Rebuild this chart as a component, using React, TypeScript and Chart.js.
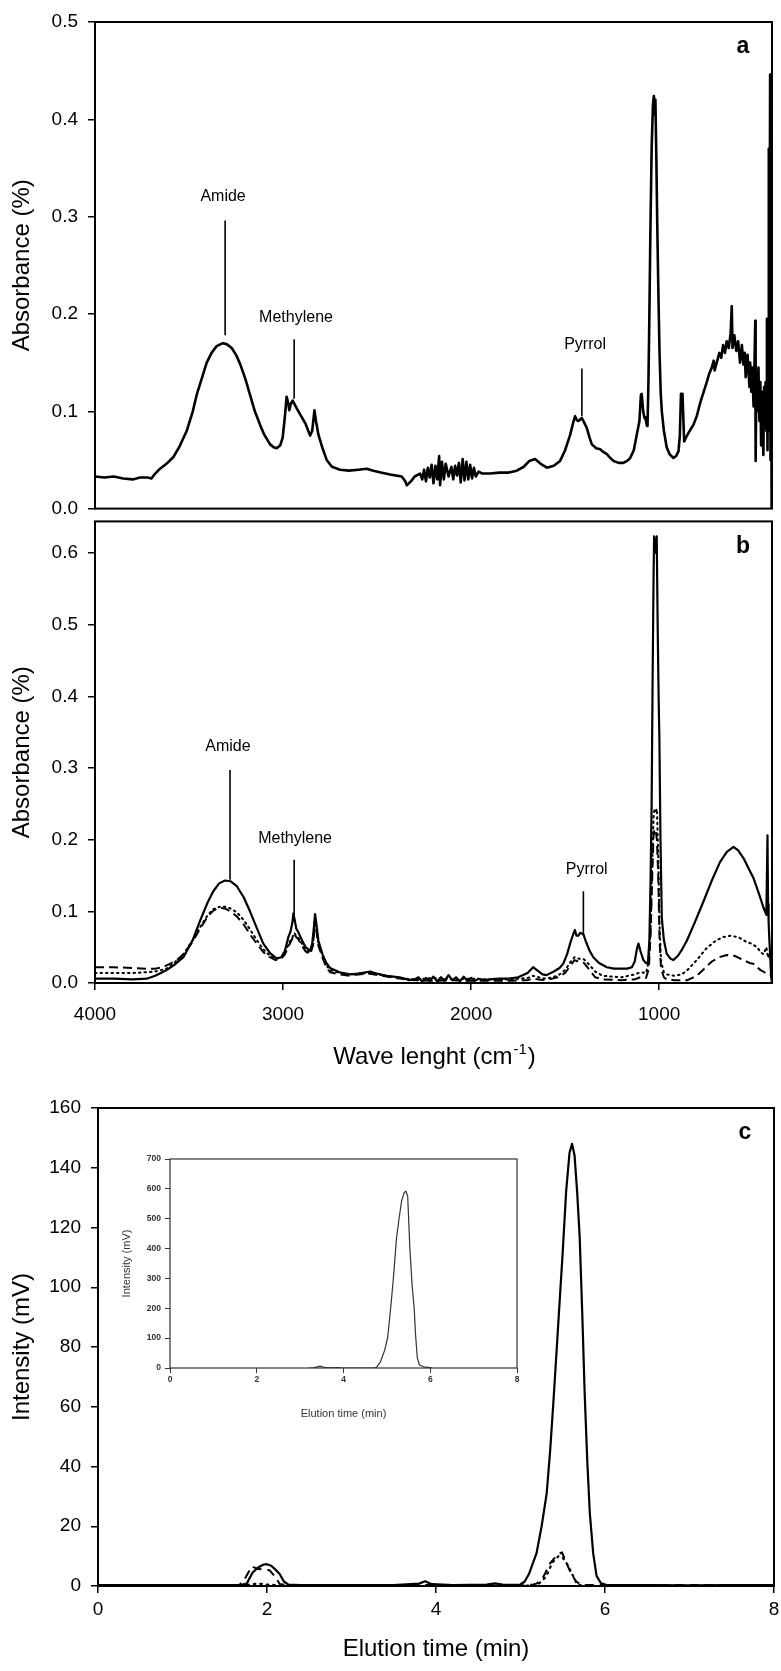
import React, { useEffect, useRef } from 'react';
import { Chart, registerables } from 'chart.js';
Chart.register(...registerables);

const FONT = '"Liberation Sans", Arial, Helvetica, sans-serif';

// ---------------- Panel a : FTIR spectrum ----------------
const waveA = [
  4000, 3950, 3900, 3850, 3800, 3760, 3720, 3700, 3680, 3654,
  3620, 3583, 3550, 3512, 3480, 3459, 3430, 3406, 3380, 3353,
  3320, 3300, 3273, 3250, 3229, 3200, 3176, 3150, 3122, 3100,
  3069, 3050, 3034, 3015, 3002, 2990, 2981, 2972, 2967, 2958,
  2949, 2930, 2910, 2880, 2856, 2845, 2833, 2825, 2812, 2790,
  2768, 2740, 2697, 2650, 2600, 2555, 2520, 2480, 2431, 2400,
  2369, 2350, 2342, 2320, 2300, 2271, 2260, 2250, 2240, 2230,
  2220, 2210, 2200, 2190, 2180, 2170, 2165, 2155, 2145, 2135,
  2120, 2105, 2095, 2085, 2075, 2065, 2055, 2045, 2035, 2025,
  2015, 2005, 1995, 1985, 1975, 1960, 1940, 1900, 1850, 1800,
  1757, 1720, 1690, 1660, 1630, 1597, 1560, 1527, 1500, 1473,
  1455, 1447, 1438, 1429, 1411, 1398, 1385, 1370, 1358, 1335,
  1314, 1295, 1278, 1260, 1243, 1215, 1190, 1170, 1154, 1135,
  1119, 1105, 1097, 1093, 1085, 1078, 1074, 1065, 1062, 1057,
  1052, 1047, 1040, 1033, 1028, 1024, 1020, 1015, 1010, 1004,
  998, 992, 986, 975, 960, 945, 924, 910, 897, 890,
  884, 880, 876, 870, 867, 855, 840, 818, 800, 780,
  760, 747, 735, 720, 710, 705, 694, 680, 670, 660,
  650, 641, 630, 620, 614, 610, 600, 590, 580, 570,
  560, 552, 545, 540, 530, 520, 516, 510, 505, 498,
  493, 489, 487, 483, 478, 472, 467, 462, 458, 454,
  450, 446, 442, 438, 434, 430, 427, 424, 421, 418,
  416, 413, 410, 408, 405, 403, 401, 400,
];
const absA = [
  0.033, 0.032, 0.033, 0.031, 0.030, 0.032, 0.032, 0.031, 0.036, 0.041,
  0.046, 0.053, 0.064, 0.080, 0.100, 0.117, 0.135, 0.150, 0.160, 0.167,
  0.170, 0.169, 0.165, 0.158, 0.149, 0.133, 0.117, 0.100, 0.086, 0.076,
  0.066, 0.063, 0.062, 0.065, 0.073, 0.095, 0.115, 0.108, 0.101, 0.108,
  0.111, 0.104, 0.097, 0.087, 0.075, 0.080, 0.101, 0.090, 0.076, 0.062,
  0.050, 0.043, 0.040, 0.039, 0.040, 0.041, 0.039, 0.037, 0.035, 0.034,
  0.033, 0.028, 0.024, 0.028, 0.033, 0.036, 0.030, 0.040, 0.028, 0.042,
  0.032, 0.045, 0.026, 0.044, 0.030, 0.054, 0.024, 0.048, 0.030, 0.046,
  0.033, 0.043, 0.030, 0.044, 0.034, 0.047, 0.027, 0.051, 0.029, 0.048,
  0.030, 0.045, 0.031, 0.042, 0.033, 0.038, 0.036, 0.036, 0.037, 0.037,
  0.039, 0.043, 0.049, 0.051, 0.046, 0.042, 0.044, 0.049, 0.060, 0.076,
  0.090, 0.095, 0.091, 0.090, 0.093, 0.088, 0.083, 0.073, 0.066, 0.062,
  0.061, 0.058, 0.056, 0.052, 0.049, 0.047, 0.047, 0.049, 0.052, 0.060,
  0.076, 0.090, 0.117, 0.118, 0.100, 0.093, 0.094, 0.085, 0.085, 0.130,
  0.200, 0.280, 0.370, 0.415, 0.424, 0.405, 0.420, 0.360, 0.290, 0.220,
  0.160, 0.120, 0.100, 0.080, 0.063, 0.056, 0.052, 0.054, 0.059, 0.075,
  0.118, 0.100, 0.118, 0.085, 0.069, 0.074, 0.079, 0.086, 0.095, 0.110,
  0.122, 0.130, 0.138, 0.145, 0.152, 0.142, 0.150, 0.160, 0.155, 0.168,
  0.160, 0.172, 0.165, 0.180, 0.208, 0.165, 0.178, 0.162, 0.172, 0.150,
  0.168, 0.148, 0.160, 0.135, 0.158, 0.125, 0.150, 0.120, 0.145, 0.105,
  0.150, 0.193, 0.049, 0.140, 0.100, 0.145, 0.090, 0.130, 0.065, 0.120,
  0.100, 0.055, 0.125, 0.090, 0.130, 0.080, 0.195, 0.060, 0.150, 0.370,
  0.080, 0.200, 0.446, 0.050, 0.250, 0.000, 0.000, 0.000,
];
const ticksA = [0, 0.1, 0.2, 0.3, 0.4, 0.5];

// ---------------- Panel b : three FTIR spectra ----------------
const waveB1 = [
  4000, 3900, 3800, 3725, 3680, 3650, 3619, 3580, 3530, 3480,
  3441, 3400, 3371, 3340, 3309, 3280, 3246, 3210, 3176, 3140,
  3105, 3070, 3034, 3010, 2990, 2972, 2960, 2950, 2945, 2938,
  2930, 2919, 2900, 2880, 2856, 2845, 2835, 2830, 2824, 2812,
  2790, 2770, 2750, 2700, 2644, 2600, 2560, 2537, 2500, 2450,
  2415, 2380, 2350, 2330, 2300, 2280, 2260, 2240, 2220, 2200,
  2180, 2160, 2140, 2120, 2100, 2080, 2060, 2040, 2020, 2000,
  1980, 1960, 1930, 1900, 1850, 1800, 1750, 1700, 1670, 1650,
  1620, 1599, 1560, 1530, 1510, 1490, 1470, 1457, 1448, 1440,
  1430, 1420, 1403, 1390, 1370, 1350, 1320, 1278, 1240, 1207,
  1170, 1145, 1130, 1118, 1110, 1100, 1084, 1070, 1060, 1052,
  1046, 1040, 1035, 1030, 1027, 1020, 1013, 1008, 1003, 999,
  993, 986, 975, 960, 940, 924, 900, 878, 853, 810,
  764, 720, 676, 640, 605, 580, 551, 525, 498, 470,
  445, 430, 424, 421, 418, 414, 410, 405, 400,
];
const absB1 = [
  0.006, 0.006, 0.005, 0.006, 0.010, 0.014, 0.018, 0.025, 0.036, 0.060,
  0.087, 0.113, 0.128, 0.139, 0.143, 0.142, 0.135, 0.120, 0.100, 0.077,
  0.055, 0.042, 0.034, 0.036, 0.045, 0.064, 0.072, 0.085, 0.097, 0.088,
  0.076, 0.071, 0.060, 0.050, 0.045, 0.055, 0.080, 0.096, 0.085, 0.059,
  0.040, 0.028, 0.021, 0.015, 0.012, 0.013, 0.015, 0.016, 0.013, 0.010,
  0.009, 0.008, 0.006, 0.004, 0.005, 0.008, 0.002, 0.007, 0.003, 0.009,
  0.002, 0.008, 0.003, 0.011, 0.004, 0.008, 0.002, 0.009, 0.003, 0.007,
  0.003, 0.006, 0.004, 0.005, 0.006, 0.006, 0.008, 0.014, 0.022, 0.018,
  0.012, 0.011, 0.016, 0.021, 0.027, 0.040, 0.058, 0.068, 0.074, 0.066,
  0.066, 0.070, 0.068, 0.058, 0.045, 0.036, 0.028, 0.022, 0.020, 0.020,
  0.020, 0.022, 0.030, 0.048, 0.055, 0.045, 0.032, 0.028, 0.027, 0.060,
  0.140, 0.250, 0.420, 0.560, 0.623, 0.600, 0.623, 0.500, 0.400, 0.344,
  0.200, 0.091, 0.060, 0.041, 0.034, 0.032, 0.038, 0.047, 0.059, 0.085,
  0.114, 0.143, 0.169, 0.183, 0.190, 0.185, 0.174, 0.160, 0.146, 0.125,
  0.105, 0.095, 0.206, 0.110, 0.085, 0.060, 0.040, 0.010, 0.000,
];
const waveB2 = [
  4000, 3900, 3800, 3725, 3680, 3619, 3580, 3530, 3480, 3441,
  3400, 3371, 3330, 3300, 3270, 3240, 3210, 3176, 3140, 3105,
  3070, 3040, 3010, 2990, 2970, 2950, 2940, 2930, 2919, 2900,
  2880, 2856, 2840, 2830, 2822, 2812, 2790, 2770, 2750, 2700,
  2644, 2600, 2537, 2450, 2400, 2350, 2300, 2200, 2100, 2000,
  1900, 1800, 1700, 1670, 1640, 1600, 1540, 1500, 1470, 1450,
  1430, 1400, 1370, 1340, 1300, 1200, 1130, 1100, 1070, 1055,
  1045, 1038, 1030, 1025, 1018, 1012, 1005, 998, 990, 975,
  960, 920, 880, 850, 800, 750, 700, 660, 620, 580,
  540, 510, 480, 460, 445, 430, 420, 410, 400,
];
const absB2 = [
  0.014, 0.014, 0.014, 0.015, 0.016, 0.020, 0.028, 0.040, 0.060, 0.078,
  0.095, 0.103, 0.107, 0.106, 0.103, 0.097, 0.088, 0.075, 0.060, 0.047,
  0.038, 0.034, 0.036, 0.042, 0.055, 0.064, 0.070, 0.066, 0.063, 0.055,
  0.046, 0.042, 0.055, 0.090, 0.075, 0.055, 0.038, 0.025, 0.018, 0.014,
  0.012, 0.013, 0.014, 0.010, 0.008, 0.006, 0.005, 0.007, 0.005, 0.006,
  0.005, 0.005, 0.007, 0.010, 0.008, 0.006, 0.010, 0.018, 0.030, 0.036,
  0.034, 0.033, 0.025, 0.016, 0.010, 0.008, 0.012, 0.015, 0.014, 0.030,
  0.080, 0.160, 0.230, 0.243, 0.240, 0.243, 0.180, 0.080, 0.030, 0.015,
  0.012, 0.010, 0.012, 0.018, 0.032, 0.048, 0.059, 0.064, 0.066, 0.064,
  0.058, 0.055, 0.050, 0.043, 0.040, 0.050, 0.035, 0.045, 0.030,
];
const waveB3 = [
  4000, 3900, 3800, 3725, 3680, 3640, 3600, 3560, 3530, 3480,
  3441, 3400, 3371, 3340, 3310, 3280, 3246, 3210, 3176, 3140,
  3105, 3070, 3040, 3010, 2990, 2970, 2950, 2940, 2930, 2919,
  2900, 2880, 2856, 2840, 2830, 2822, 2812, 2790, 2770, 2750,
  2700, 2644, 2600, 2537, 2450, 2400, 2350, 2300, 2200, 2100,
  2000, 1900, 1800, 1700, 1670, 1640, 1600, 1540, 1500, 1470,
  1450, 1430, 1400, 1370, 1340, 1300, 1200, 1130, 1100, 1070,
  1055, 1045, 1038, 1030, 1025, 1018, 1012, 1005, 998, 990,
  975, 960, 920, 880, 850, 800, 760, 720, 680, 640,
  600, 560, 520, 500, 480, 460, 440, 420, 400,
];
const absB3 = [
  0.022, 0.022, 0.021, 0.020, 0.020, 0.022, 0.027, 0.033, 0.040, 0.058,
  0.076, 0.093, 0.101, 0.105, 0.104, 0.100, 0.093, 0.082, 0.068, 0.055,
  0.043, 0.036, 0.032, 0.034, 0.040, 0.052, 0.062, 0.068, 0.064, 0.061,
  0.052, 0.044, 0.040, 0.053, 0.088, 0.072, 0.052, 0.035, 0.022, 0.015,
  0.012, 0.010, 0.012, 0.013, 0.009, 0.007, 0.005, 0.004, 0.003, 0.004,
  0.003, 0.003, 0.003, 0.004, 0.006, 0.005, 0.004, 0.008, 0.014, 0.025,
  0.032, 0.030, 0.028, 0.018, 0.008, 0.005, 0.004, 0.005, 0.008, 0.007,
  0.020, 0.070, 0.140, 0.205, 0.215, 0.212, 0.200, 0.150, 0.060, 0.020,
  0.008, 0.005, 0.004, 0.004, 0.004, 0.010, 0.020, 0.030, 0.036, 0.039,
  0.038, 0.033, 0.028, 0.027, 0.022, 0.018, 0.015, 0.012, 0.010,
];
const ticksBy = [0, 0.1, 0.2, 0.3, 0.4, 0.5, 0.6];
const ticksBx = [1000, 2000, 3000, 4000];

// ---------------- Panel c : chromatograms ----------------
const timeC1 = [
  0, 0.5, 1.0, 1.5, 1.7, 1.76, 1.83, 1.9, 1.96, 2.0,
  2.05, 2.1, 2.15, 2.2, 2.25, 2.4, 3.0, 3.5, 3.8, 3.87,
  3.95, 4.2, 4.6, 4.7, 4.8, 5.0, 5.05, 5.1, 5.19, 5.25,
  5.31, 5.35, 5.388, 5.43, 5.467, 5.5, 5.54, 5.58, 5.61, 5.64,
  5.67, 5.70, 5.73, 5.76, 5.79, 5.82, 5.86, 5.90, 5.95, 6.02,
  6.5, 7.0, 7.5, 8.0,
];
const intC1 = [
  0.3, 0.3, 0.3, 0.3, 0.4, 0.8, 4.5, 6.3, 7.2, 7.3,
  6.8, 5.5, 4.0, 1.5, 0.5, 0.3, 0.3, 0.3, 0.8, 1.6,
  0.6, 0.3, 0.5, 0.9, 0.4, 0.5, 1.5, 4, 11, 20,
  31, 45, 61, 80, 97, 112, 132, 145, 148, 144,
  132, 117, 92, 64, 42, 24.5, 11, 3.4, 1, 0.3,
  0.3, 0.2, 0.3, 0.3,
];
const timeC2 = [
  0, 0.5, 1.0, 1.5, 1.65, 1.68, 1.75, 1.82, 1.88, 1.95,
  2.03, 2.1, 2.15, 2.25, 3.0, 4.0, 5.0, 5.15, 5.19, 5.27,
  5.35, 5.42, 5.49, 5.54, 5.6, 5.66, 5.72, 6.5, 7.0, 8.0,
];
const intC2 = [
  0.3, 0.3, 0.3, 0.3, 0.3, 0.5, 3, 6.6, 5.8, 5.5,
  5.3, 3, 0.7, 0.2, 0.3, 0.3, 0.2, 0.5, 0.8, 3,
  7.6, 10, 11.3, 8, 4, 1.5, 0.3, 0.3, 0.3, 0.3,
];
const timeC3 = [
  0, 1, 1.7, 1.8, 1.9, 2.0, 2.1, 2.2, 3, 4,
  5.0, 5.2, 5.3, 5.38, 5.45, 5.5, 5.56, 5.62, 5.67, 5.75,
  6.5, 8,
];
const intC3 = [
  0, 0, 0, 0.5, 0.8, 0.5, 0.3, 0, 0, 0,
  0, 0.3, 3, 8, 10, 9.5, 7, 3.5, 0.5, 0,
  0, 0,
];
const ticksCy = [0, 20, 40, 60, 80, 100, 120, 140, 160];
const ticksCx = [0, 2, 4, 6, 8];

// ---------------- Inset ----------------
const timeIn = [
  3.2, 3.3, 3.4, 3.47, 3.55, 3.7, 3.85, 3.95, 4.2, 4.7,
  4.76, 4.85, 4.95, 5.02, 5.1, 5.15, 5.22, 5.28, 5.34, 5.4,
  5.44, 5.48, 5.53, 5.58, 5.63, 5.66, 5.7, 5.75, 5.85, 5.99, 6.05,
];
const intIn = [
  0, 0.5, 4, 6, 2, 0.5, 1.5, 0.5, 0, 0,
  2, 20, 60, 103, 220, 300, 432, 500, 560, 588,
  592, 575, 400, 280, 200, 115, 35, 10, 4, 1, 0,
];
const ticksInY = [0, 100, 200, 300, 400, 500, 600, 700];

// ---------------- Annotations ----------------
const notesA = [
  { text: 'Amide', x: 3308, tx: 3319, y0: 0.296, y1: 0.178, ty: 0.321 },
  { text: 'Methylene', x: 2941, tx: 2931, y0: 0.174, y1: 0.113, ty: 0.196 },
  { text: 'Pyrrol', x: 1411, tx: 1394, y0: 0.144, y1: 0.095, ty: 0.169 },
];
const notesB = [
  { text: 'Amide', x: 3282, tx: 3293, y0: 0.297, y1: 0.144, ty: 0.330 },
  { text: 'Methylene', x: 2941, tx: 2936, y0: 0.172, y1: 0.096, ty: 0.201 },
  { text: 'Pyrrol', x: 1403, tx: 1385, y0: 0.128, y1: 0.066, ty: 0.158 },
];

const pts = (xs: number[], ys: number[]) => xs.map((x, i) => ({ x, y: ys[i] }));

// ---------------- Plugins ----------------
const framePlugin = {
  id: 'frame',
  afterDatasetsDraw(chart: any, _a: any, opts: any) {
    const { ctx, chartArea: a } = chart;
    ctx.save();
    ctx.strokeStyle = opts.color || '#000';
    ctx.lineWidth = opts.width || 2;
    ctx.strokeRect(a.left, a.top, a.right - a.left, a.bottom - a.top);
    ctx.restore();
  },
};

const notesPlugin = {
  id: 'notes',
  afterDatasetsDraw(chart: any, _a: any, opts: any) {
    const { ctx, chartArea: a } = chart;
    const x = chart.scales.x;
    const y = chart.scales.y;
    ctx.save();
    ctx.fillStyle = '#000';
    ctx.strokeStyle = '#000';
    (opts.items || []).forEach((it: any) => {
      const px = x.getPixelForValue(it.x);
      ctx.lineWidth = 1.6;
      ctx.beginPath();
      ctx.moveTo(px, y.getPixelForValue(it.y0));
      ctx.lineTo(px, y.getPixelForValue(it.y1));
      ctx.stroke();
      ctx.font = `16px ${FONT}`;
      ctx.textAlign = 'center';
      ctx.textBaseline = 'middle';
      ctx.fillText(it.text, x.getPixelForValue(it.tx), y.getPixelForValue(it.ty));
    });
    if (opts.panel) {
      ctx.font = `bold 23px ${FONT}`;
      ctx.textAlign = 'center';
      ctx.textBaseline = 'middle';
      ctx.fillText(opts.panel, a.right - 29, a.top + 25);
    }
    if (opts.supTitle) {
      const t = opts.supTitle;
      const big = `24px ${FONT}`;
      const small = `15px ${FONT}`;
      ctx.font = big;
      const w1 = ctx.measureText(t.main).width;
      const w3 = ctx.measureText(t.tail).width;
      ctx.font = small;
      const w2 = ctx.measureText(t.sup).width;
      const x0 = (a.left + a.right) / 2 - (w1 + w2 + w3) / 2;
      const by = a.bottom + t.offset;
      ctx.textAlign = 'left';
      ctx.textBaseline = 'alphabetic';
      ctx.font = big;
      ctx.fillText(t.main, x0, by);
      ctx.font = small;
      ctx.fillText(t.sup, x0 + w1 + 1, by - 10);
      ctx.font = big;
      ctx.fillText(t.tail, x0 + w1 + w2 + 2, by);
    }
    ctx.restore();
  },
};

const setTicks = (vals: number[]) => (scale: any) => {
  scale.ticks = vals.map((value) => ({ value }));
};

const yAxis = (o: any) => ({
  type: 'linear',
  min: o.min,
  max: o.max,
  afterBuildTicks: setTicks(o.ticks),
  afterFit: (s: any) => {
    s.width = o.width;
  },
  border: { display: false },
  grid: { drawOnChartArea: false, drawTicks: true, tickLength: o.tl ?? 7, color: o.color || '#000', lineWidth: o.lw ?? 1.5 },
  ticks: {
    color: o.color || '#000',
    padding: o.pad ?? 10,
    font: { family: FONT, size: o.fs ?? 19, weight: o.fw || 'normal' },
    callback: o.cb || ((v: any) => String(v)),
  },
  title: o.title
    ? { display: true, text: o.title, color: o.color || '#000', font: { family: FONT, size: o.tfs ?? 24 }, padding: { top: o.tpad ?? 8, bottom: 0 } }
    : { display: false },
});

const xAxis = (o: any) => ({
  type: 'linear',
  reverse: !!o.reverse,
  min: o.min,
  max: o.max,
  display: o.display !== false,
  afterBuildTicks: o.ticks ? setTicks(o.ticks) : undefined,
  afterFit: (s: any) => {
    if (o.height != null) s.height = o.height;
    s.paddingLeft = 0;
    s.paddingRight = 0;
  },
  border: { display: false },
  grid: { drawOnChartArea: false, drawTicks: true, tickLength: o.tl ?? 7, color: o.color || '#000', lineWidth: o.lw ?? 1.5 },
  ticks: {
    color: o.color || '#000',
    padding: o.pad ?? 8,
    maxRotation: 0,
    autoSkip: false,
    font: { family: FONT, size: o.fs ?? 19, weight: o.fw || 'normal' },
    callback: (v: any) => String(v),
  },
  title: o.title
    ? { display: true, text: o.title, color: o.color || '#000', font: { family: FONT, size: o.tfs ?? 24 }, padding: { top: 0, bottom: o.tpad ?? 8 } }
    : { display: false },
});

const base = (layoutPadding: any, scales: any, pluginOpts: any) => ({
  responsive: false,
  animation: false,
  devicePixelRatio: 1,
  events: [],
  layout: { padding: layoutPadding },
  elements: { point: { radius: 0 }, line: { tension: 0, borderJoinStyle: 'round' } },
  scales,
  plugins: { legend: { display: false }, tooltip: { enabled: false }, ...pluginOpts },
});

const line = (data: any[], o: any = {}) => ({
  data,
  borderColor: o.color || '#000',
  borderWidth: o.width ?? 2,
  borderDash: o.dash || [],
  borderCapStyle: o.cap || 'butt',
  pointRadius: 0,
  fill: false,
});

// ---------------- Chart configs ----------------
const buildA = () => ({
  type: 'line',
  data: { datasets: [line(pts(waveA, absA), { width: 2.6 })] },
  options: base(
    { top: 22, right: 9, bottom: 15, left: 0 },
    {
      x: xAxis({ min: 400, max: 4000, reverse: true, display: false }),
      y: yAxis({ min: 0, max: 0.5, ticks: ticksA, width: 95, title: 'Absorbance (%)', cb: (v: any) => Number(v).toFixed(1) }),
    },
    { frame: { width: 2 }, notes: { items: notesA, panel: 'a' } }
  ),
  plugins: [framePlugin, notesPlugin],
});

const buildB = () => ({
  type: 'line',
  data: {
    datasets: [
      line(pts(waveB1, absB1), { width: 2.2 }),
      line(pts(waveB2, absB2), { width: 2, dash: [1.5, 4], cap: 'round' }),
      line(pts(waveB3, absB3), { width: 2, dash: [9, 5] }),
    ],
  },
  options: base(
    { top: 15, right: 9, bottom: 0, left: 0 },
    {
      x: xAxis({ min: 400, max: 4000, reverse: true, ticks: ticksBx, height: 107, pad: 13 }),
      y: yAxis({ min: 0, max: 0.644, ticks: ticksBy, width: 95, title: 'Absorbance (%)', cb: (v: any) => Number(v).toFixed(1) }),
    },
    {
      frame: { width: 2 },
      notes: { items: notesB, panel: 'b', supTitle: { main: 'Wave lenght (cm', sup: '-1', tail: ')', offset: 81 } },
    }
  ),
  plugins: [framePlugin, notesPlugin],
});

const buildC = () => ({
  type: 'line',
  data: {
    datasets: [
      line(pts(timeC1, intC1), { width: 2.2 }),
      line(pts(timeC2, intC2), { width: 2, dash: [9, 6] }),
      line(pts(timeC3, intC3), { width: 2.2, dash: [1.5, 5], cap: 'round' }),
    ],
  },
  options: base(
    { top: 28, right: 7, bottom: 0, left: 0 },
    {
      x: xAxis({ min: 0, max: 8, ticks: ticksCx, height: 85, pad: 5, title: 'Elution time (min)', tpad: 7 }),
      y: yAxis({ min: 0, max: 160, ticks: ticksCy, width: 98, title: 'Intensity (mV)' }),
    },
    { frame: { width: 2 }, notes: { items: [], panel: 'c' } }
  ),
  plugins: [framePlugin, notesPlugin],
});

const buildInset = () => ({
  type: 'line',
  data: { datasets: [line(pts(timeIn, intIn), { width: 1.2, color: '#333' })] },
  options: base(
    { top: 19, right: 13, bottom: 0, left: 0 },
    {
      x: xAxis({ min: 0, max: 8, ticks: ticksCx, height: 62, pad: 2, tl: 5, lw: 1, fs: 8.5, fw: 'bold', color: '#333', title: 'Elution time (min)', tfs: 11, tpad: 9 }),
      y: yAxis({ min: 0, max: 700, ticks: ticksInY, width: 70, tl: 5, lw: 1, fs: 8.5, fw: 'bold', pad: 4, color: '#333', title: 'Intensity (mV)', tfs: 11, tpad: 20 }),
    },
    { frame: { width: 1.2, color: '#333' }, notes: { items: [] } }
  ),
  plugins: [framePlugin, notesPlugin],
});

function ChartCanvas(props: { left: number; top: number; width: number; height: number; build: () => any }) {
  const ref = useRef<HTMLCanvasElement>(null);
  useEffect(() => {
    const chart = new Chart(ref.current as HTMLCanvasElement, props.build());
    return () => chart.destroy();
  }, []);
  return (
    <canvas
      ref={ref}
      width={props.width}
      height={props.height}
      style={{ position: 'absolute', left: props.left, top: props.top, width: props.width, height: props.height }}
    />
  );
}

export default function App() {
  return (
    <div style={{ position: 'absolute', left: 0, top: 0, width: 781, height: 1671, background: '#fff', overflow: 'hidden' }}>
      <ChartCanvas left={0} top={0} width={781} height={530} build={buildA} />
      <ChartCanvas left={0} top={500} width={781} height={590} build={buildB} />
      <ChartCanvas left={0} top={1080} width={781} height={591} build={buildC} />
      <ChartCanvas left={100} top={1140} width={430} height={290} build={buildInset} />
    </div>
  );
}
